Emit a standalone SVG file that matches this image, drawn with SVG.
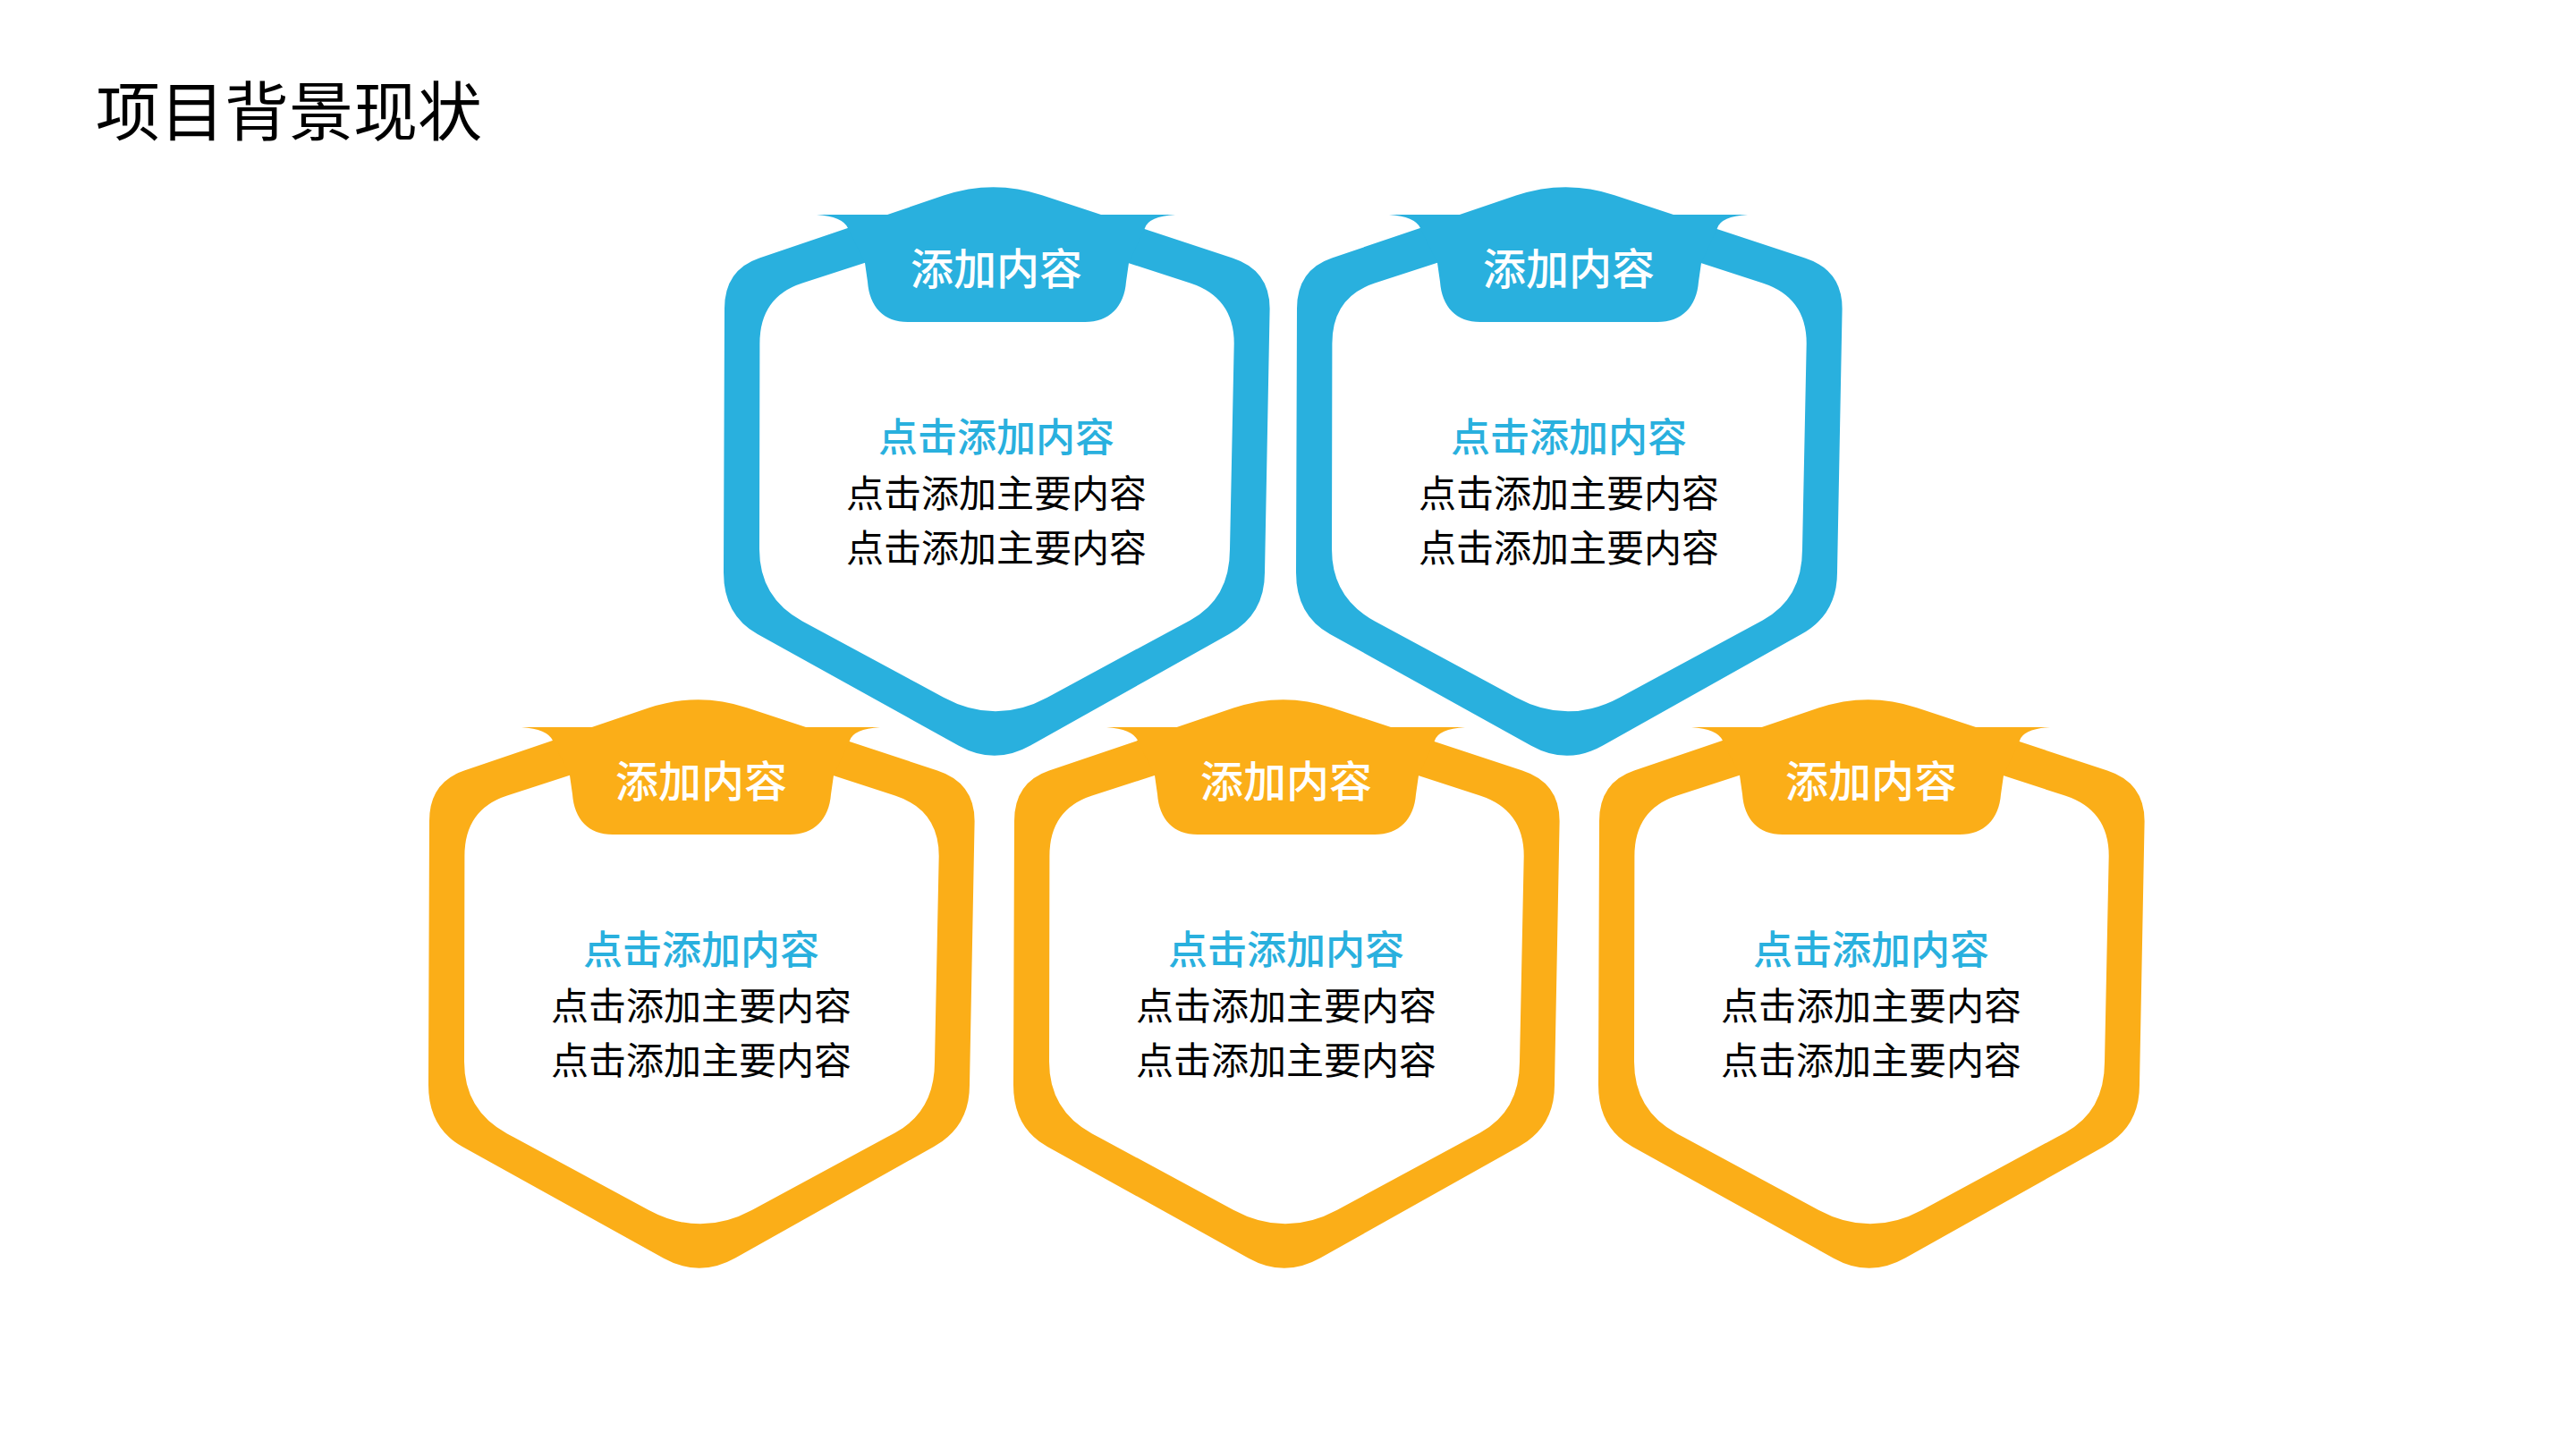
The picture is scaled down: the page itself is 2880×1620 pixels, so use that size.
<svg xmlns="http://www.w3.org/2000/svg" xmlns:xlink="http://www.w3.org/1999/xlink" width="2880" height="1620" viewBox="0 0 2880 1620">
<style>
.blue{fill:#29B0DE}
.orange{fill:#FBAE18}
text{font-family:"Noto Sans CJK SC","Noto Sans CJK TC",sans-serif;text-anchor:middle}
.title{font-size:72px;fill:#000;text-anchor:start}
.head{font-size:48px;fill:#FFFFFF;font-weight:500}
.sub{font-size:44px;fill:#29B0DE;font-weight:500}
.body{font-size:42px;fill:#000000}
</style>
<defs>
<path id="ring" fill-rule="evenodd" d="M 1055,218.6 Q 1110,200 1165,218.2 L 1378,288.5 Q 1419.6,302 1419.6,345 L 1414,640 Q 1414,687 1374,709 L 1152,833.5 Q 1112,856 1072,833.7 L 847,709 Q 809,688 809,640 L 810,345 Q 810,301.7 849,288.5 Z M 1114,246 L 1330.7,316.6 Q 1379.7,332.6 1379.7,384 L 1375,614 Q 1375,669.5 1330.7,693.4 L 1171,779.7 Q 1113,811 1055,779.7 L 897,694.4 Q 849,668.4 849,614 L 849.4,384 Q 849.4,332 897,316.6 Z"/>
<path id="tab" d="M 913,240 L 1314,240 Q 1284,242 1280,255 L 1262,294 L 1259,315 C 1257,343 1240,360 1213,360 L 1015,360 C 988,360 972,343 970,315 L 967,294 L 948,255 Q 942,242 913,240 Z"/>
</defs>
<rect width="2880" height="1620" fill="#FFFFFF"/>
<text class="title" x="107" y="151">项目背景现状</text>
<g id="node-top-1" class="blue">
<use xlink:href="#ring"/><use xlink:href="#tab"/>
<text class="head" x="1114" y="318">添加内容</text>
<text class="sub" x="1114" y="505">点击添加内容</text>
<text class="body" x="1114" y="567">点击添加主要内容</text>
<text class="body" x="1114" y="628">点击添加主要内容</text>
</g>
<g id="node-top-2" class="blue" transform="translate(640,0)">
<use xlink:href="#ring"/><use xlink:href="#tab"/>
<text class="head" x="1114" y="318">添加内容</text>
<text class="sub" x="1114" y="505">点击添加内容</text>
<text class="body" x="1114" y="567">点击添加主要内容</text>
<text class="body" x="1114" y="628">点击添加主要内容</text>
</g>
<g id="node-bottom-1" class="orange" transform="translate(-330,573)">
<use xlink:href="#ring"/><use xlink:href="#tab"/>
<text class="head" x="1114" y="318">添加内容</text>
<text class="sub" x="1114" y="505">点击添加内容</text>
<text class="body" x="1114" y="567">点击添加主要内容</text>
<text class="body" x="1114" y="628">点击添加主要内容</text>
</g>
<g id="node-bottom-2" class="orange" transform="translate(324,573)">
<use xlink:href="#ring"/><use xlink:href="#tab"/>
<text class="head" x="1114" y="318">添加内容</text>
<text class="sub" x="1114" y="505">点击添加内容</text>
<text class="body" x="1114" y="567">点击添加主要内容</text>
<text class="body" x="1114" y="628">点击添加主要内容</text>
</g>
<g id="node-bottom-3" class="orange" transform="translate(978,573)">
<use xlink:href="#ring"/><use xlink:href="#tab"/>
<text class="head" x="1114" y="318">添加内容</text>
<text class="sub" x="1114" y="505">点击添加内容</text>
<text class="body" x="1114" y="567">点击添加主要内容</text>
<text class="body" x="1114" y="628">点击添加主要内容</text>
</g>
<g id="connectors"></g>
</svg>
